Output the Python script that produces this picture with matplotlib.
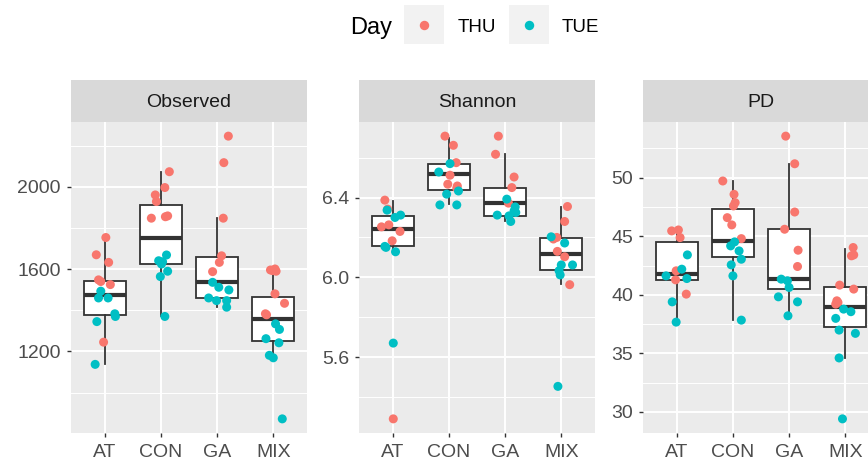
import matplotlib
matplotlib.use('Agg')
import matplotlib.pyplot as plt
from matplotlib.patches import Rectangle
from matplotlib.lines import Line2D
from matplotlib.ticker import FixedLocator

plt.rcParams['font.family'] = ['Liberation Sans', 'DejaVu Sans']

## dados
groups = ['AT', 'CON', 'GA', 'MIX']
days = ['THU', 'TUE']
day_colors = ['#F8766D', '#00BFC4']
metrics = ['Observed', 'Shannon', 'PD']

# Observed
obs_thu = [[1754, 1670, 1633, 1548, 1540, 1525, 1245],
           [2074, 1997, 1961, 1929, 1848, 1855, 1859],
           [2247, 2118, 1848, 1665, 1633, 1588],
           [1593, 1601, 1596, 1590, 1480, 1434, 1383, 1378]]
obs_thu_dx = [[0.02, -0.15, 0.07, -0.11, -0.07, 0.10, -0.02],
              [0.15, 0.07, -0.10, -0.08, -0.17, 0.08, 0.12],
              [0.20, 0.12, 0.11, 0.08, 0.04, -0.08],
              [-0.01, 0.03, -0.05, 0.05, 0.03, 0.20, -0.14, -0.12]]
obs_tue = [[1493, 1460, 1460, 1383, 1370, 1345, 1137],
           [1669, 1641, 1636, 1625, 1590, 1564, 1370],
           [1536, 1512, 1499, 1460, 1447, 1447, 1415],
           [1334, 1307, 1262, 1242, 1181, 1169, 872]]
obs_tue_dx = [[-0.07, -0.11, 0.06, 0.18, 0.19, -0.14, -0.17],
              [0.10, -0.04, 0.03, 0.01, 0.12, -0.01, 0.07],
              [-0.08, 0.03, 0.21, -0.15, -0.01, 0.17, 0.17],
              [0.04, 0.11, -0.13, 0.10, -0.07, 0.00, 0.16]]
obs_whislo = [1140, 1370, 1418, 1169]
obs_q1 = [1375, 1625, 1460, 1253]
obs_med = [1472, 1754, 1536, 1358]
obs_q3 = [1544, 1913, 1657, 1467]
obs_whishi = [1740, 2074, 1848, 1580]

# Shannon
sha_thu = [[6.387, 6.342, 6.253, 6.263, 6.230, 6.183, 5.290],
           [6.708, 6.662, 6.575, 6.512, 6.467, 6.458, 6.447],
           [6.708, 6.617, 6.503, 6.450, 6.372],
           [6.355, 6.280, 6.192, 6.200, 6.130, 6.103, 5.963]]
sha_thu_dx = [[-0.14, -0.09, -0.20, -0.07, 0.13, -0.01, 0.01],
              [-0.07, 0.08, 0.13, 0.02, -0.02, 0.15, 0.14],
              [-0.12, -0.17, 0.16, 0.12, 0.06],
              [0.11, 0.06, -0.14, -0.08, -0.07, 0.06, 0.15]]
sha_tue = [[6.337, 6.300, 6.312, 6.155, 6.150, 6.128, 5.670],
           [6.570, 6.528, 6.417, 6.433, 6.363, 6.363],
           [6.392, 6.312, 6.353, 6.333, 6.308, 6.280, 6.325],
           [6.203, 6.172, 6.062, 6.062, 6.033, 6.012, 5.453]]
sha_tue_dx = [[-0.10, 0.04, 0.14, -0.14, -0.12, 0.05, 0.01],
              [0.02, -0.18, -0.04, 0.17, -0.16, 0.14],
              [0.03, -0.14, 0.18, 0.16, 0.07, 0.10, 0.19],
              [-0.18, 0.06, 0.20, 0.00, -0.04, -0.02, -0.06]]
sha_whislo = [6.128, 6.367, 6.283, 5.967]
sha_q1 = [6.155, 6.438, 6.308, 6.037]
sha_med = [6.242, 6.520, 6.372, 6.117]
sha_q3 = [6.305, 6.567, 6.450, 6.195]
sha_whishi = [6.383, 6.700, 6.617, 6.353]

# PD
pd_thu = [[45.46, 45.54, 44.89, 42.05, 41.28, 40.06],
          [49.72, 48.58, 47.87, 47.59, 46.59, 45.97, 44.80],
          [53.55, 51.19, 47.07, 45.60, 43.81, 42.42],
          [44.04, 43.33, 43.41, 40.83, 40.49, 39.49, 39.21, 39.35]]
pd_thu_dx = [[-0.09, 0.03, 0.06, -0.01, -0.02, 0.17],
             [-0.18, 0.02, 0.04, 0.01, -0.10, -0.02, 0.15],
             [-0.06, 0.10, 0.10, -0.08, 0.16, 0.15],
             [0.14, 0.11, 0.15, -0.10, 0.15, -0.15, -0.17, -0.13]]
pd_tue = [[43.41, 42.19, 41.39, 41.62, 39.40, 37.67],
          [44.52, 44.18, 43.75, 43.04, 42.56, 41.62, 37.84],
          [41.34, 41.20, 40.63, 39.83, 39.40, 38.21],
          [38.78, 38.56, 37.99, 36.99, 36.71, 34.61, 29.41]]
pd_tue_dx = [[0.19, 0.09, 0.18, -0.19, -0.08, -0.01],
             [0.03, -0.04, 0.11, 0.15, -0.03, 0.00, 0.15],
             [-0.14, -0.03, 0.00, -0.19, 0.15, -0.02],
             [-0.03, 0.10, -0.17, -0.11, 0.18, -0.11, -0.05]]
pd_whislo = [37.73, 37.84, 38.21, 34.60]
pd_q1 = [41.28, 43.24, 40.49, 37.22]
pd_med = [41.82, 44.60, 41.34, 38.98]
pd_q3 = [44.49, 47.36, 45.60, 40.68]
pd_whishi = [45.60, 49.70, 51.14, 43.90]

# ticks
obs_major = [1200, 1600, 2000]
obs_minor = [1000, 1400, 1800, 2200]
sha_major = [5.6, 6.0, 6.4]
sha_major_lab = ['5.6', '6.0', '6.4']
sha_minor = [5.4, 5.8, 6.2, 6.6]
pd_major = [30, 35, 40, 45, 50]
pd_minor = [32.5, 37.5, 42.5, 47.5, 52.5]

panels = [
    (obs_thu, obs_thu_dx, obs_tue, obs_tue_dx,
     (obs_whislo, obs_q1, obs_med, obs_q3, obs_whishi),
     obs_major, [str(v) for v in obs_major], obs_minor),
    (sha_thu, sha_thu_dx, sha_tue, sha_tue_dx,
     (sha_whislo, sha_q1, sha_med, sha_q3, sha_whishi),
     sha_major, sha_major_lab, sha_minor),
    (pd_thu, pd_thu_dx, pd_tue, pd_tue_dx,
     (pd_whislo, pd_q1, pd_med, pd_q3, pd_whishi),
     pd_major, [str(v) for v in pd_major], pd_minor),
]

W, H = 868, 468
fig = plt.figure(figsize=(W / 100, H / 100), dpi=100)

panel_left = [71, 359, 643]
panel_w = 236
panel_top, panel_bot = 122, 433
strip_top = 80

for i, (thu, thu_dx, tue, tue_dx, bstats, major, major_lab, minor) in enumerate(panels):
    ax = fig.add_axes([panel_left[i] / W, (H - panel_bot) / H,
                       panel_w / W, (panel_bot - panel_top) / H])
    ax.set_facecolor('#EBEBEB')
    for s in ax.spines.values():
        s.set_visible(False)

    stats = []
    for g in range(len(groups)):
        stats.append({'whislo': bstats[0][g], 'q1': bstats[1][g], 'med': bstats[2][g],
                      'q3': bstats[3][g], 'whishi': bstats[4][g], 'fliers': []})
    ax.bxp(stats, positions=[1, 2, 3, 4], widths=0.75, showfliers=False,
           showcaps=False, patch_artist=True,
           boxprops=dict(facecolor='white', edgecolor='#333333', linewidth=1.3),
           whiskerprops=dict(color='#333333', linewidth=1.3),
           medianprops=dict(color='#333333', linewidth=3.0, solid_capstyle='butt'),
           zorder=2)

    allv = []
    for vals, dxs, col in [(thu, thu_dx, day_colors[0]), (tue, tue_dx, day_colors[1])]:
        for g in range(len(groups)):
            xs = [g + 1 + d for d in dxs[g]]
            ax.scatter(xs, vals[g], s=42, color=col, edgecolors='none', zorder=3)
            allv += vals[g]

    lo, hi = min(allv), max(allv)
    pad = (hi - lo) * 0.05
    ax.set_ylim(lo - pad, hi + pad)
    ax.set_xlim(0.4, 4.6)

    ax.set_xticks([1, 2, 3, 4])
    ax.set_xticklabels(groups)
    ax.set_yticks(major)
    ax.set_yticklabels(major_lab)
    ax.yaxis.set_minor_locator(FixedLocator(minor))
    ax.grid(True, which='major', color='white', linewidth=1.4)
    ax.grid(True, which='minor', axis='y', color='white', linewidth=0.7)
    ax.set_axisbelow(True)
    ax.tick_params(which='major', length=3.2, width=1.0, color='#333333',
                   labelcolor='#4D4D4D', labelsize=14)
    ax.tick_params(axis='x', which='major', pad=5)
    ax.tick_params(axis='y', which='major', pad=4)
    ax.tick_params(which='minor', length=0)

    sax = fig.add_axes([panel_left[i] / W, (H - panel_top) / H,
                        panel_w / W, (panel_top - strip_top) / H])
    sax.set_facecolor('#D9D9D9')
    sax.set_xticks([])
    sax.set_yticks([])
    for s in sax.spines.values():
        s.set_visible(False)
    sax.text(0.5, 0.46, metrics[i], ha='center', va='center', fontsize=14,
             color='#1A1A1A', transform=sax.transAxes)

# legenda no topo
fig.text(350 / W, 1 - 28 / H, 'Day', ha='left', va='center', fontsize=17, color='black')
key_x = [404, 509]
text_x = [458, 562]
for k in range(len(days)):
    fig.add_artist(Rectangle((key_x[k] / W, 1 - 44 / H), 40 / W, 39 / H,
                             transform=fig.transFigure, facecolor='#F2F2F2',
                             edgecolor='none'))
    fig.add_artist(Line2D([(key_x[k] + 20) / W], [1 - 24.5 / H], marker='o',
                          markersize=6.8, color=day_colors[k], markeredgewidth=0,
                          transform=fig.transFigure))
    fig.text(text_x[k] / W, 1 - 27.5 / H, days[k], ha='left', va='center',
             fontsize=13.5, color='black')

fig.savefig('out.png', dpi=100)
